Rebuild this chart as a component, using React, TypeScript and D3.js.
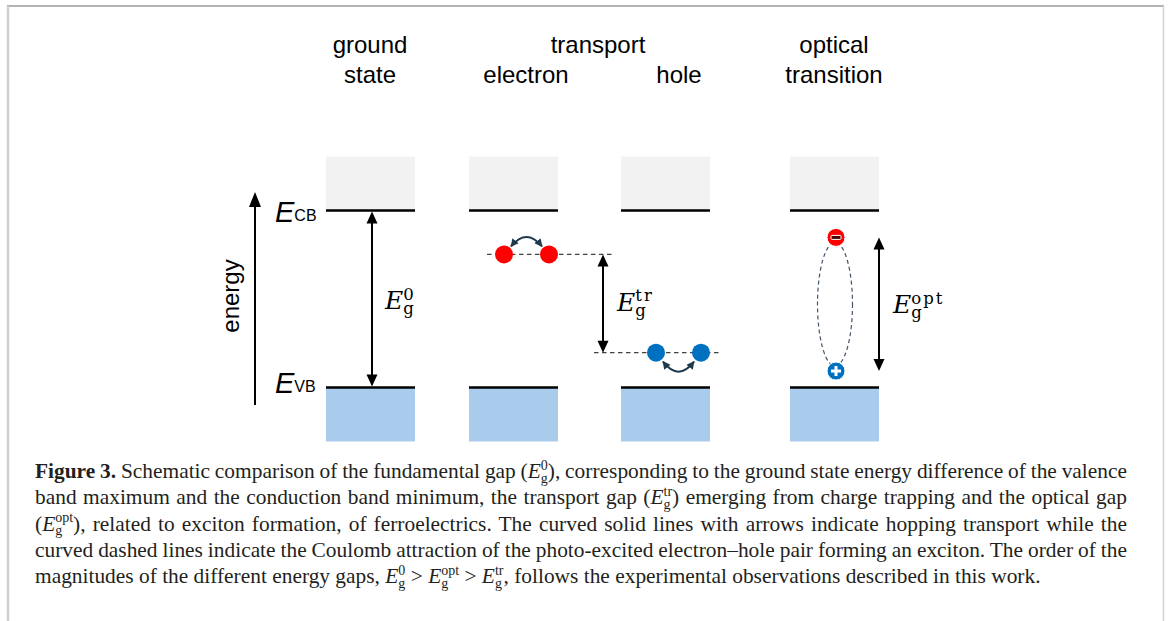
import React, { useLayoutEffect, useRef, useState } from "react";
import * as d3 from "d3";

// ---- data --------------------------------------------------------------
// energies on a relative scale: VB maximum = 0, CB minimum = 1
const bandLevels = [1, 0];
const bandLabels = ["CB", "VB"];
const bandDepth = 0.305; // how far the shaded band areas extend
const electronTrap = 0.752; // trapped-electron level (transport)
const holeTrap = 0.197; // trapped-hole level (transport)
const excitonLevels = [0.848, 0.093]; // bound electron / hole of the exciton
const gapNames = ["0", "tr", "opt"];

const headerTop = ["ground", "transport", "optical"];
const headerBottom = ["state", "electron", "hole", "transition"];

type Seg = string | { bold: string } | { gap: string };
const captionLines: Seg[][] = [
  [
    { bold: "Figure 3." },
    " Schematic comparison of the fundamental gap (",
    { gap: "0" },
    "), corresponding to the ground state energy difference of the valence",
  ],
  [
    "band maximum and the conduction band minimum, the transport gap (",
    { gap: "tr" },
    ") emerging from charge trapping and the optical gap",
  ],
  [
    "(",
    { gap: "opt" },
    "), related to exciton formation, of ferroelectrics. The curved solid lines with arrows indicate hopping transport while the",
  ],
  [
    "curved dashed lines indicate the Coulomb attraction of the photo-excited electron\u2013hole pair forming an exciton. The order of the",
  ],
  [
    "magnitudes of the different energy gaps, ",
    { gap: "0" },
    " > ",
    { gap: "opt" },
    " > ",
    { gap: "tr" },
    ", follows the experimental observations described in this work.",
  ],
];

// ---- layout ------------------------------------------------------------
const W = 1170;
const H = 621;
const panelX = [326, 469, 621, 790];
const panelW = 89;
const headerTopX = [370, 598, 834];
const headerBottomX = [370, 526, 679, 834];
const headerY = [53, 83];
const electronX = [504, 549];
const holeX = [656, 701];
const excitonX = 836;
const gapArrowX = [372, 603, 879];
const captionX = 35;
const captionRight = 1127;
const captionY0 = 478;
const captionStep = 26.25;
const captionSize = 21.4;

const yE = d3.scaleLinear().domain([0, 1]).range([387.5, 210.5]);

const SANS = "'Liberation Sans', Arial, sans-serif";
const MATH = "'DejaVu Serif', serif";
const SERIF = "'Liberation Serif', 'Times New Roman', serif";
const HOP = "#1f3a4c";

function DoubleArrow({ x, y1, y2, head = 12, half = 5.5, both = true }: any) {
  const top = Math.min(y1, y2);
  const bot = Math.max(y1, y2);
  return (
    <g>
      <line
        x1={x}
        x2={x}
        y1={top + head - 2}
        y2={both ? bot - head + 2 : bot}
        stroke="#000"
        strokeWidth={2}
      />
      <path d={`M${x},${top} L${x - half},${top + head} L${x + half},${top + head} Z`} fill="#000" />
      {both && (
        <path d={`M${x},${bot} L${x - half},${bot - head} L${x + half},${bot - head} Z`} fill="#000" />
      )}
    </g>
  );
}

function GapLabel({ x, y, sup }: { x: number; y: number; sup: string }) {
  return (
    <text x={x} y={y} fontFamily={MATH} fill="#000">
      <tspan fontStyle="italic" fontSize={25}>
        E
      </tspan>
      <tspan fontSize={16.5} dy={5}>
        g
      </tspan>
      <tspan fontSize={16.5} dx={-10.5} dy={-14.5} letterSpacing={2}>
        {sup}
      </tspan>
    </text>
  );
}

function renderSegs(segs: Seg[]) {
  let reset = 0;
  return segs.map((s, k) => {
    const dy = reset || undefined;
    if (typeof s === "string") {
      reset = 0;
      return (
        <tspan key={k} dy={dy}>
          {s}
        </tspan>
      );
    }
    if ("bold" in s) {
      reset = 0;
      return (
        <tspan key={k} dy={dy} fontWeight="bold">
          {s.bold}
        </tspan>
      );
    }
    reset = 8.5;
    return (
      <React.Fragment key={k}>
        <tspan dy={dy} fontStyle="italic">
          E
        </tspan>
        <tspan fontSize={14} dy={4.5}>
          g
        </tspan>
        <tspan fontSize={14} dx={-7} dy={-13}>
          {s.gap}
        </tspan>
      </React.Fragment>
    );
  });
}

function Caption() {
  const refs = useRef<(SVGTextElement | null)[]>([]);
  const [spacing, setSpacing] = useState<number[]>(captionLines.map(() => 0));

  useLayoutEffect(() => {
    // justify every line but the last by spreading the word gaps
    const measure = () => {
      const next = captionLines.map((_, i) => {
        if (i === captionLines.length - 1) return 0;
        const el = refs.current[i];
        if (!el) return 0;
        const current = parseFloat(el.getAttribute("word-spacing") || "0") || 0;
        const bb = el.getBBox();
        const spaces = ((el.textContent || "").match(/ /g) || []).length;
        if (!spaces) return 0;
        const natural = bb.x + bb.width - current * spaces;
        return (captionRight - natural) / spaces;
      });
      setSpacing(next);
    };
    measure();
    (document as any).fonts?.ready?.then(measure);
  }, []);

  return (
    <g fontFamily={SERIF} fontSize={captionSize} fill="#231f20">
      {captionLines.map((segs, i) => (
        <text
          key={i}
          ref={(el) => {
            refs.current[i] = el;
          }}
          x={captionX}
          y={captionY0 + i * captionStep}
          wordSpacing={spacing[i]}
        >
          {renderSegs(segs)}
        </text>
      ))}
    </g>
  );
}

export default function App() {
  const cbTop = yE(1 + bandDepth);
  const vbBottom = yE(-bandDepth);
  const eY = yE(electronTrap);
  const hY = yE(holeTrap);
  const [exE, exH] = excitonLevels.map((v) => yE(v));
  const exMid = (exE + exH) / 2;

  const hopUp = (x1: number, x2: number, y: number) =>
    `M${x1 + 7},${y - 8} Q${(x1 + x2) / 2},${y - 27} ${x2 - 7},${y - 8}`;
  const hopDown = (x1: number, x2: number, y: number) =>
    `M${x1 + 7},${y + 9} Q${(x1 + x2) / 2},${y + 29} ${x2 - 7},${y + 9}`;

  return (
    <svg
      width={W}
      height={H}
      style={{ position: "absolute", left: 0, top: 0, background: "#fff" }}
    >
      <defs>
        <marker
          id="hopHead"
          viewBox="0 0 10 10"
          refX={9}
          refY={5}
          markerWidth={8}
          markerHeight={8}
          markerUnits="userSpaceOnUse"
          orient="auto-start-reverse"
        >
          <path d="M0,0 L10,5 L0,10 Z" fill={HOP} />
        </marker>
      </defs>

      {/* page frame */}
      <line x1={7} x2={1164} y1={6} y2={6} stroke="#9a9a9a" strokeWidth={1.5} />
      <line x1={8} x2={8} y1={6} y2={H} stroke="#cfcfcf" strokeWidth={2.5} />
      <line x1={1163.5} x2={1163.5} y1={6} y2={H} stroke="#d4d4d4" strokeWidth={1.5} />

      {/* column headers */}
      <g fontFamily={SANS} fontSize={24} fill="#000" textAnchor="middle">
        {headerTop.map((t, i) => (
          <text key={t} x={headerTopX[i]} y={headerY[0]}>
            {t}
          </text>
        ))}
        {headerBottom.map((t, i) => (
          <text key={t} x={headerBottomX[i]} y={headerY[1]}>
            {t}
          </text>
        ))}
      </g>

      {/* energy axis */}
      <DoubleArrow x={255} y1={192} y2={405} head={15} half={6} both={false} />
      <text
        transform="translate(239,296) rotate(-90)"
        fontFamily={SANS}
        fontSize={24}
        textAnchor="middle"
      >
        energy
      </text>

      {/* bands */}
      {panelX.map((x) => (
        <g key={x}>
          <rect x={x} y={cbTop} width={panelW} height={yE(1) - cbTop} fill="#f2f2f2" />
          <rect x={x} y={yE(0)} width={panelW} height={vbBottom - yE(0)} fill="#a9cbec" />
          {bandLevels.map((v) => (
            <line key={v} x1={x} x2={x + panelW} y1={yE(v)} y2={yE(v)} stroke="#000" strokeWidth={2.5} />
          ))}
        </g>
      ))}

      {/* band-edge labels */}
      {bandLabels.map((lab, i) => (
        <text
          key={lab}
          x={275}
          y={yE(bandLevels[i]) + (i === 0 ? 11.5 : 5.5)}
          fontFamily={SANS}
          fill="#000"
        >
          <tspan fontStyle="italic" fontSize={29}>
            E
          </tspan>
          <tspan fontSize={16} dy={-1}>
            {lab}
          </tspan>
        </text>
      ))}

      {/* fundamental gap */}
      <DoubleArrow x={gapArrowX[0]} y1={yE(1) + 1} y2={yE(0) - 1} />
      <GapLabel x={gapArrowX[0] + 13} y={(yE(0) + yE(1)) / 2 + 10} sup={gapNames[0]} />

      {/* trapped electrons */}
      <line x1={487} x2={612} y1={eY} y2={eY} stroke="#444" strokeWidth={1.2} strokeDasharray="4.5 3.5" />
      <path d={hopUp(electronX[0], electronX[1], eY)} fill="none" stroke={HOP} strokeWidth={2}
        markerStart="url(#hopHead)" markerEnd="url(#hopHead)" />
      {electronX.map((x) => (
        <circle key={x} cx={x} cy={eY} r={9} fill="#ff0000" />
      ))}

      {/* transport gap */}
      <DoubleArrow x={gapArrowX[1]} y1={eY} y2={hY} />
      <GapLabel x={gapArrowX[1] + 14} y={(eY + hY) / 2 + 7} sup={gapNames[1]} />

      {/* trapped holes */}
      <line x1={594} x2={719} y1={hY} y2={hY} stroke="#444" strokeWidth={1.2} strokeDasharray="4.5 3.5" />
      <path d={hopDown(holeX[0], holeX[1], hY)} fill="none" stroke={HOP} strokeWidth={2}
        markerStart="url(#hopHead)" markerEnd="url(#hopHead)" />
      {holeX.map((x) => (
        <circle key={x} cx={x} cy={hY} r={9} fill="#0070c0" />
      ))}

      {/* exciton */}
      <ellipse cx={excitonX - 1} cy={exMid} rx={17.5} ry={(exH - exE) / 2 - 5} fill="none"
        stroke="#44546a" strokeWidth={1.2} strokeDasharray="4 3" />
      <circle cx={excitonX} cy={exE} r={9} fill="#ff0000" stroke="#fff" strokeWidth={1} />
      <rect x={excitonX - 5} y={exE - 2} width={10} height={4} rx={1} fill="#4a0000" stroke="#fff" strokeWidth={1} />
      <circle cx={excitonX} cy={exH} r={9} fill="#0070c0" stroke="#fff" strokeWidth={1} />
      <rect x={excitonX - 5} y={exH - 1.5} width={10} height={3} fill="#fff" />
      <rect x={excitonX - 1.5} y={exH - 5} width={3} height={10} fill="#fff" />

      {/* optical gap */}
      <DoubleArrow x={gapArrowX[2]} y1={exE} y2={exH} />
      <GapLabel x={gapArrowX[2] + 14} y={exMid + 9} sup={gapNames[2]} />

      <Caption />
    </svg>
  );
}
